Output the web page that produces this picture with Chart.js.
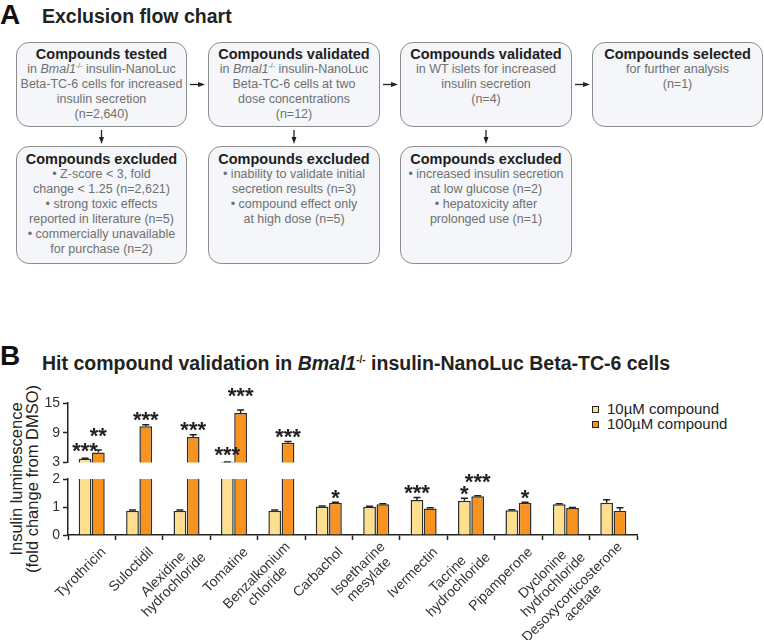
<!DOCTYPE html>
<html>
<head>
<meta charset="utf-8">
<script src="https://cdn.jsdelivr.net/npm/chart.js@4.4.1/dist/chart.umd.min.js"></script>
<style>
  body { margin: 0; width: 764px; height: 640px; position: relative; overflow: hidden; background: #fff;
         font-family: "Liberation Sans", Arial, Helvetica, sans-serif; }
  .abs { position: absolute; }
  .letter { font-size: 28px; font-weight: bold; line-height: 28px; color: #111; }
  .title { font-size: 19.5px; font-weight: bold; line-height: 20px; color: #222; white-space: nowrap; }
  .box { position: absolute; box-sizing: border-box; border: 1.5px solid #8d8d8d; border-radius: 13px;
         background: #f4f6f9; text-align: center; padding-top: 3px; color: #707070; font-size: 12.5px;
         line-height: 15px; white-space: nowrap; }
  .box b { display: block; color: #1e1e1e; font-size: 14.5px; line-height: 16px; }
  sup { font-size: 7px; vertical-align: 5px; line-height: 0; }
  .ytitle { font-size: 16.5px; line-height: 16px; color: #222; text-align: center; white-space: nowrap;
            transform: rotate(-90deg); }
  .legend { font-size: 15px; line-height: 15px; color: #222; white-space: nowrap; }
  .legend span.sq { display: inline-block; width: 5px; height: 5px; border: 1.2px solid #222; margin-right: 8px;
                    vertical-align: 1px; }
</style>
</head>
<body>

<!-- panel A -->
<div class="abs letter" style="left:0;top:1px">A</div>
<div class="abs title" style="left:42px;top:6px">Exclusion flow chart</div>

<div class="box" style="left:16px;top:42px;width:171px;height:85px">
  <b>Compounds tested</b>in <i>Bmal1</i><sup>-/-</sup> insulin-NanoLuc<br>Beta-TC-6 cells for increased<br>insulin secretion<br>(n=2,640)
</div>
<div class="box" style="left:208px;top:42px;width:172px;height:85px">
  <b>Compounds validated</b>in <i>Bmal1</i><sup>-/-</sup> insulin-NanoLuc<br>Beta-TC-6 cells at two<br>dose concentrations<br>(n=12)
</div>
<div class="box" style="left:400px;top:42px;width:172px;height:85px">
  <b>Compounds validated</b>in WT islets for increased<br>insulin secretion<br>(n=4)
</div>
<div class="box" style="left:592px;top:42px;width:171px;height:85px">
  <b>Compounds selected</b>for further analysis<br>(n=1)
</div>
<div class="box" style="left:16px;top:146px;width:171px;height:118px;padding-top:4px">
  <b>Compounds excluded</b>• Z-score &lt; 3, fold<br>change &lt; 1.25 (n=2,621)<br>• strong toxic effects<br>reported in literature (n=5)<br>• commercially unavailable<br>for purchase (n=2)
</div>
<div class="box" style="left:208px;top:146px;width:172px;height:118px;padding-top:4px">
  <b>Compounds excluded</b>• inability to validate initial<br>secretion results (n=3)<br>• compound effect only<br>at high dose (n=5)
</div>
<div class="box" style="left:400px;top:146px;width:172px;height:118px;padding-top:4px">
  <b>Compounds excluded</b>• increased insulin secretion<br>at low glucose (n=2)<br>• hepatoxicity after<br>prolonged use (n=1)
</div>

<svg class="abs" style="left:0;top:0" width="764" height="150">
  <g stroke="#222" stroke-width="1.3" fill="#222">
    <line x1="190" y1="84.5" x2="199" y2="84.5"/><polygon points="205,84.5 198,82 198,87" stroke="none"/>
    <line x1="383" y1="84.5" x2="392" y2="84.5"/><polygon points="398,84.5 391,82 391,87" stroke="none"/>
    <line x1="575" y1="84.5" x2="584" y2="84.5"/><polygon points="590,84.5 583,82 583,87" stroke="none"/>
    <line x1="101.5" y1="130" x2="101.5" y2="138"/><polygon points="101.5,144 99,137 104,137" stroke="none"/>
    <line x1="294" y1="130" x2="294" y2="138"/><polygon points="294,144 291.5,137 296.5,137" stroke="none"/>
    <line x1="486" y1="130" x2="486" y2="138"/><polygon points="486,144 483.5,137 488.5,137" stroke="none"/>
  </g>
</svg>

<!-- panel B -->
<div class="abs letter" style="left:0;top:342px">B</div>
<div class="abs title" style="left:42px;top:353px">Hit compound validation in <i>Bmal1</i><sup style="font-size:10px;vertical-align:7px">-/-</sup> insulin-NanoLuc Beta-TC-6 cells</div>

<div class="abs ytitle" style="left:-86px;top:463px;width:220px;height:32px">Insulin luminescence<br>(fold change from DMSO)</div>
<div class="abs legend" id="legend" style="left:592px;top:401px"></div>

<canvas id="top" class="abs" style="left:0;top:385px" width="764" height="89"></canvas>
<canvas id="bottom" class="abs" style="left:0;top:466px" width="764" height="174"></canvas>

<script>
const categories = [
  ['Tyrothricin'], ['Suloctidil'], ['Alexidine', 'hydrochloride'], ['Tomatine'],
  ['Benzalkonium', 'chloride'], ['Carbachol'], ['Isoetharine', 'mesylate'], ['Ivermectin'],
  ['Tacrine', 'hydrochloride'], ['Pipamperone'], ['Dyclonine', 'hydrochloride'],
  ['Desoxycorticosterone', 'acetate']
];
const seriesNames = ['10\u00B5M compound', '100\u00B5M compound'];
const mean10  = [3.8, 0.87, 0.87, 3.05, 0.87, 1.02, 1.01, 1.25, 1.22, 0.88, 1.10, 1.15];
const sem10   = [0.1, 0.02, 0.02, 0.05, 0.02, 0.02, 0.02, 0.09, 0.09, 0.02, 0.02, 0.11];
const mean100 = [5.05, 10.3, 8.15, 13.0, 7.0, 1.15, 1.10, 0.95, 1.38, 1.15, 0.96, 0.87];
const sem100  = [0.5, 0.3, 0.45, 0.6, 0.25, 0.02, 0.02, 0.02, 0.02, 0.02, 0.02, 0.1];
const stars10  = ['***', '', '', '***', '', '', '', '***', '*', '', '', ''];
const stars100 = ['**', '***', '***', '***', '***', '*', '', '', '***', '*', '', ''];
const upperTicks = [3, 9, 15];
const lowerTicks = [0, 1, 2];

const colors = ['#fddf8e', '#f7931e'];
const FONT = '"Liberation Sans", Arial, sans-serif';

// legend
document.getElementById('legend').innerHTML = seriesNames.map((n, i) =>
  `<div><span class="sq" style="background:${colors[i]}"></span>${n}</div>`).join('');

function makeDatasets() {
  return [
    { label: seriesNames[0], data: mean10, err: sem10, stars: stars10 },
    { label: seriesNames[1], data: mean100, err: sem100, stars: stars100 }
  ].map((d, i) => Object.assign(d, {
    backgroundColor: colors[i], borderColor: '#2e2e2e', borderWidth: 1.5,
    categoryPercentage: 0.56, barPercentage: 0.96, clip: 0
  }));
}

// error bars + significance stars
const errPlugin = {
  id: 'errs',
  afterDatasetsDraw(chart, args, opts) {
    const { ctx, chartArea, scales: { y } } = chart;
    ctx.save();
    ctx.beginPath();
    ctx.rect(chartArea.left, chartArea.top - 1, chartArea.right - chartArea.left, chartArea.bottom - chartArea.top + 1);
    ctx.clip();
    ctx.strokeStyle = '#222';
    ctx.lineWidth = 1.5;
    chart.data.datasets.forEach((ds, d) => {
      chart.getDatasetMeta(d).data.forEach((bar, i) => {
        const top = y.getPixelForValue(ds.data[i] + ds.err[i]);
        ctx.beginPath();
        ctx.moveTo(bar.x, bar.y);
        ctx.lineTo(bar.x, top);
        ctx.moveTo(bar.x - 3.5, top);
        ctx.lineTo(bar.x + 3.5, top);
        ctx.stroke();
      });
    });
    ctx.restore();

    ctx.save();
    ctx.font = 'bold 22px ' + FONT;
    ctx.fillStyle = '#222';
    ctx.textAlign = 'center';
    ctx.textBaseline = 'alphabetic';
    chart.data.datasets.forEach((ds, d) => {
      chart.getDatasetMeta(d).data.forEach((bar, i) => {
        const s = ds.stars[i];
        if (!s) return;
        const v = ds.data[i] + ds.err[i];
        const inUpper = v > 2.5;
        if (inUpper !== opts.upper) return;
        const both = stars10[i] && stars100[i];
        const lift = 9 + (both && d === 1 ? 9 : 0) + (both && d === 0 && inUpper ? 3 : 0);
        const yc = y.getPixelForValue(v) - lift;
        ctx.fillText(s, bar.x, yc + 11.5);
      });
    });
    ctx.restore();
  }
};

// angled, centred multi-line category labels
const xLabelPlugin = {
  id: 'xLabels',
  afterDraw(chart) {
    const { ctx, chartArea, scales: { x } } = chart;
    ctx.save();
    ctx.font = '14px ' + FONT;
    ctx.fillStyle = '#333';
    ctx.textAlign = 'center';
    ctx.textBaseline = 'middle';
    chart.data.labels.forEach((lab, i) => {
      const lines = Array.isArray(lab) ? lab : [lab];
      const w = Math.max(...lines.map(l => ctx.measureText(l).width));
      ctx.save();
      ctx.translate(x.getPixelForValue(i) + 12, chartArea.bottom + 15);
      ctx.rotate(-Math.PI / 4);
      lines.forEach((l, j) => ctx.fillText(l, -w / 2, (j - (lines.length - 1) / 2) * 15));
      ctx.restore();
    });
    ctx.restore();
  }
};

function yAxis(min, max, step) {
  return {
    min: min, max: max,
    afterFit: s => { s.width = 68; },
    afterBuildTicks: s => { s.ticks = (min === 0 ? lowerTicks : upperTicks).map(v => ({ value: v })); },
    ticks: { stepSize: step, padding: 3, color: '#333', font: { family: FONT, size: 14 } },
    grid: { drawOnChartArea: false, drawTicks: true, tickLength: 5, tickColor: '#222', tickWidth: 1.5 },
    border: { color: '#222', width: 1.5 }
  };
}

const common = {
  responsive: false,
  animation: false,
  events: [],
  plugins: { legend: { display: false }, tooltip: { enabled: false } }
};

new Chart(document.getElementById('top'), {
  type: 'bar',
  data: { labels: categories, datasets: makeDatasets() },
  options: Object.assign({}, common, {
    layout: { padding: { top: 18, right: 127, bottom: 9, left: 0 } },
    plugins: Object.assign({}, common.plugins, { errs: { upper: true } }),
    scales: {
      x: { display: false },
      y: yAxis(3, 15, 6)
    }
  }),
  plugins: [errPlugin]
});

new Chart(document.getElementById('bottom'), {
  type: 'bar',
  data: { labels: categories, datasets: makeDatasets() },
  options: Object.assign({}, common, {
    layout: { padding: { top: 13, right: 127, bottom: 0, left: 0 } },
    plugins: Object.assign({}, common.plugins, { errs: { upper: false } }),
    scales: {
      x: {
        afterFit: s => { s.height = 105; },
        ticks: { display: false },
        grid: { drawOnChartArea: false, offset: true, tickLength: 5, tickColor: '#222', tickWidth: 1.5 },
        border: { color: '#222', width: 1.5 }
      },
      y: yAxis(0, 2, 1)
    }
  }),
  plugins: [errPlugin, xLabelPlugin]
});
</script>
</body>
</html>
